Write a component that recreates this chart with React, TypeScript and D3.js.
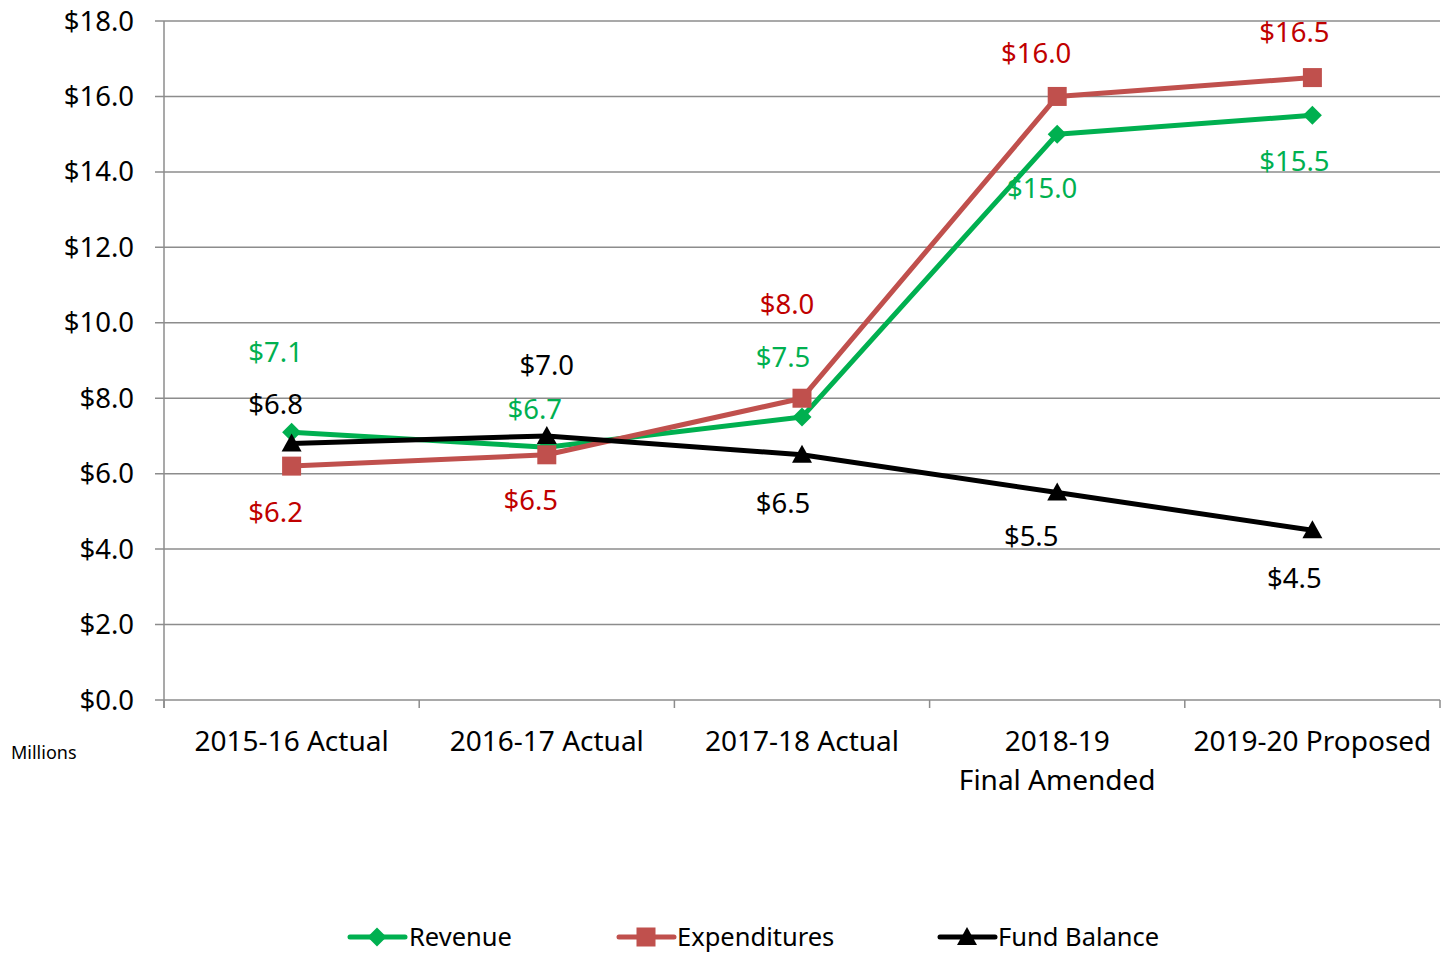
import React from "react";
import * as d3 from "d3";

const categories = ["2015-16 Actual", "2016-17 Actual", "2017-18 Actual", "2018-19\nFinal Amended", "2019-20 Proposed"];
const revenue = [7.1, 6.7, 7.5, 15.0, 15.5];
const expenditures = [6.2, 6.5, 8.0, 16.0, 16.5];
const fundBalance = [6.8, 7.0, 6.5, 5.5, 4.5];
const yTicks = [0, 2, 4, 6, 8, 10, 12, 14, 16, 18];

// label placement offsets (layout only): [dx, dy] relative to point
const revOffsets = [[-16, -80], [-12, -38], [-19, -60], [-15, 54], [-18, 46]];
const expOffsets = [[-16, 46], [-16, 46], [-15, -94], [-21, -43], [-18, -45]];
const fundOffsets = [[-16, -39], [0, -70], [-19, 49], [-26, 44], [-18, 48]];

const FONT = "'Noto Sans', 'Open Sans', sans-serif";

export default function App() {
  const W = 1441, H = 953;
  const left = 164, right = 1440, top = 21, bottom = 700;
  const x = d3.scaleBand<string>().domain(categories).range([left, right]);
  const y = d3.scaleLinear().domain([0, 18]).range([bottom, top]);
  const cx = (i: number) => (x(categories[i]) as number) + x.bandwidth() / 2;
  const line = d3.line<number>().x((_, i) => cx(i)).y((d) => y(d));

  const series = [
    { name: "Revenue", data: revenue, color: "#00B050", label: "#00B050", marker: "diamond", offsets: revOffsets },
    { name: "Expenditures", data: expenditures, color: "#C0504D", label: "#C00000", marker: "square", offsets: expOffsets },
    { name: "Fund Balance", data: fundBalance, color: "#000000", label: "#000000", marker: "triangle", offsets: fundOffsets },
  ];

  const marker = (kind: string, px: number, py: number, color: string, key: any) => {
    if (kind === "diamond") {
      const s = 9.5;
      return <path key={key} d={`M${px},${py - s}L${px + s},${py}L${px},${py + s}L${px - s},${py}Z`} fill={color} />;
    }
    if (kind === "square") {
      const s = 9.5;
      return <rect key={key} x={px - s} y={py - s} width={2 * s} height={2 * s} fill={color} />;
    }
    const s = 10;
    return <path key={key} d={`M${px},${py - s}L${px + s},${py + s * 0.8}L${px - s},${py + s * 0.8}Z`} fill={color} />;
  };

  const legendItems = [
    { x0: 350, tx: 409 },
    { x0: 619, tx: 677 },
    { x0: 940, tx: 998 },
  ];

  return (
    <svg width={W} height={H} style={{ position: "absolute", left: 0, top: 0, background: "#fff" }} fontFamily={FONT}>
      {yTicks.map((t) => (
        <g key={t}>
          <line x1={155} x2={right} y1={y(t)} y2={y(t)} stroke="#8c8c8c" strokeWidth={1.5} />
          <text x={134} y={y(t) + 9.5} textAnchor="end" fontSize={27.5} fill="#000">{`$${t.toFixed(1)}`}</text>
        </g>
      ))}
      <line x1={left} x2={left} y1={top} y2={708} stroke="#8c8c8c" strokeWidth={1.5} />
      {d3.range(categories.length + 1).map((i) => {
        const xx = left + i * x.bandwidth();
        return <line key={i} x1={xx} x2={xx} y1={bottom} y2={708} stroke="#8c8c8c" strokeWidth={1.5} />;
      })}
      {categories.map((c, i) => (
        <text key={c} textAnchor="middle" fontSize={28} fill="#000">
          {c.split("\n").map((ln, j) => (
            <tspan key={j} x={cx(i)} y={751 + j * 39}>{ln}</tspan>
          ))}
        </text>
      ))}
      <text x={11} y={759} fontSize={18} fill="#000">Millions</text>

      {series.map((s) => (
        <path key={s.name} d={line(s.data) as string} fill="none" stroke={s.color} strokeWidth={5} strokeLinejoin="round" />
      ))}
      {series.map((s) => (
        <g key={s.name + "m"}>{s.data.map((d, i) => marker(s.marker, cx(i), y(d), s.color, i))}</g>
      ))}
      {series.map((s) => (
        <g key={s.name + "l"}>
          {s.data.map((d, i) => (
            <text key={i} x={cx(i) + s.offsets[i][0]} y={y(d) + s.offsets[i][1] + 9.5} textAnchor="middle" fontSize={27.5} fill={s.label}>
              {`$${d.toFixed(1)}`}
            </text>
          ))}
        </g>
      ))}

      {series.map((s, k) => {
        const it = legendItems[k];
        return (
          <g key={s.name + "leg"}>
            <line x1={it.x0} x2={it.x0 + 55} y1={937} y2={937} stroke={s.color} strokeWidth={5} strokeLinecap="round" />
            {marker(s.marker, it.x0 + 27, 937, s.color, "m")}
            <text x={it.tx} y={946} fontSize={25.5} fill="#000">{s.name}</text>
          </g>
        );
      })}
    </svg>
  );
}
